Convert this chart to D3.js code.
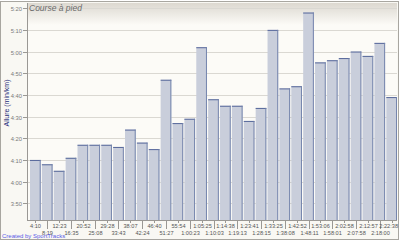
<!DOCTYPE html>
<html>
<head>
<meta charset="utf-8">
<script src="https://cdn.jsdelivr.net/npm/d3@7"></script>
<style>
  body { margin: 0; background: #ffffff; }
  svg { display: block; }
</style>
</head>
<body>
<div id="chart"></div>
<script>
// cumulative time at the end of each km (x axis labels)
var kmLabels = ["4:10", "8:19", "12:23", "16:35", "20:52", "25:08", "29:28", "33:43", "38:07", "42:24",
    "46:40", "51:27", "55:54", "1:00:23", "1:05:25", "1:10:03", "1:14:38", "1:19:13", "1:23:41", "1:28:15",
    "1:33:25", "1:38:08", "1:42:52", "1:48:11", "1:53:06", "1:58:01", "2:02:58", "2:07:58", "2:12:57", "2:18:00",
    "2:22:38"];
// pace for each km, in seconds per km
var paceSeconds = [250, 248, 245, 251, 257, 257, 257, 256, 264, 258,
    255, 287, 267, 269, 302, 278, 275, 275, 268, 274,
    310, 283, 284, 318, 295, 296, 297, 300, 298, 304,
    279];
var yTicks = [230, 240, 250, 260, 270, 280, 290, 300, 310, 320];

var width = 400, height = 240;
// note: "top" is a reserved window property, so use plotX0 etc.
var plotX0 = 27, plotX1 = 397, plotY0 = 3, plotY1 = 220;

var svg = d3.select("#chart").append("svg")
    .attr("width", width)
    .attr("height", height);

var defs = svg.append("defs");
var grad = defs.append("linearGradient")
    .attr("id", "head")
    .attr("x1", 0).attr("y1", 0).attr("x2", 0).attr("y2", 1);
grad.append("stop").attr("offset", "0%").attr("stop-color", "#dcd8d0");
grad.append("stop").attr("offset", "100%").attr("stop-color", "#fcfbf7");

// outer background + frame
svg.append("rect")
    .attr("x", 0.5).attr("y", 1.5)
    .attr("width", width - 2).attr("height", height - 2)
    .attr("fill", "#f9f8f3")
    .attr("stroke", "#a8a6a0");

// plot background
svg.append("rect")
    .attr("x", plotX0).attr("y", plotY0)
    .attr("width", plotX1 - plotX0).attr("height", plotY1 - plotY0)
    .attr("fill", "#fcfbf7");
svg.append("rect")
    .attr("x", plotX0).attr("y", plotY0)
    .attr("width", plotX1 - plotX0).attr("height", 22)
    .attr("fill", "url(#head)");

var x = d3.scaleBand()
    .domain(d3.range(paceSeconds.length))
    .range([30, plotX1])
    .paddingInner(0.1)
    .paddingOuter(0);

var y = d3.scaleLinear()
    .domain([222.3, 322.4])
    .range([plotY1, plotY0]);

function fmt(s) {
    var m = Math.floor(s / 60), r = s % 60;
    return m + ":" + (r < 10 ? "0" : "") + r;
}

// grid lines
svg.append("g").selectAll("line")
    .data(yTicks)
    .enter().append("line")
    .attr("x1", plotX0).attr("x2", plotX1)
    .attr("y1", function(d) { return Math.round(y(d)) + 0.5; })
    .attr("y2", function(d) { return Math.round(y(d)) + 0.5; })
    .attr("stroke", "#dad8d2");

// title
svg.append("text")
    .attr("x", 29).attr("y", 11)
    .attr("font-family", "Liberation Sans, Arial, sans-serif")
    .attr("font-size", 8.5)
    .attr("font-style", "italic")
    .attr("fill", "#6a6a6a")
    .text("Course à pied");

// bars
var bars = svg.append("g").selectAll("g")
    .data(paceSeconds)
    .enter().append("g");

bars.append("rect")
    .attr("x", function(d, i) { return x(i); })
    .attr("y", function(d) { return y(d); })
    .attr("width", x.bandwidth())
    .attr("height", function(d) { return plotY1 - y(d); })
    .attr("fill", "#c9cedb");

bars.append("line")
    .attr("x1", function(d, i) { return x(i); })
    .attr("x2", function(d, i) { return x(i) + x.bandwidth(); })
    .attr("y1", function(d) { return y(d) + 0.5; })
    .attr("y2", function(d) { return y(d) + 0.5; })
    .attr("stroke", "#56679a");

bars.append("line")
    .attr("x1", function(d, i) { return x(i) + x.bandwidth() - 0.5; })
    .attr("x2", function(d, i) { return x(i) + x.bandwidth() - 0.5; })
    .attr("y1", function(d) { return y(d); })
    .attr("y2", plotY1)
    .attr("stroke", "#7585ad");

// axes lines
svg.append("line")
    .attr("x1", plotX0 + 0.5).attr("x2", plotX0 + 0.5)
    .attr("y1", plotY0).attr("y2", plotY1)
    .attr("stroke", "#9a9894");
svg.append("line")
    .attr("x1", plotX0).attr("x2", plotX1)
    .attr("y1", plotY1 + 0.5).attr("y2", plotY1 + 0.5)
    .attr("stroke", "#9a9894");

// y ticks
var yt = svg.append("g").selectAll("g")
    .data(yTicks)
    .enter().append("g")
    .attr("transform", function(d) { return "translate(0," + (Math.round(y(d)) + 0.5) + ")"; });
yt.append("line")
    .attr("x1", 23).attr("x2", plotX0)
    .attr("stroke", "#9a9894");
yt.append("text")
    .attr("x", 22).attr("dy", "0.35em")
    .attr("text-anchor", "end")
    .attr("font-family", "Liberation Sans, Arial, sans-serif")
    .attr("font-size", 5.8)
    .attr("fill", "#7a7a7a")
    .text(fmt);

// x ticks, labels alternate between two rows
var xt = svg.append("g").selectAll("g")
    .data(kmLabels)
    .enter().append("g")
    .attr("transform", function(d, i) { return "translate(" + (Math.round(x(i) + x.bandwidth() / 2) + 0.5) + ",0)"; });
xt.append("line")
    .attr("y1", plotY1)
    .attr("y2", function(d, i) { return i % 2 ? plotY1 + 9 : plotY1 + 3; })
    .attr("stroke", "#9a9894");
xt.append("text")
    .attr("y", function(d, i) { return i % 2 ? 235 : 228; })
    .attr("text-anchor", "middle")
    .attr("font-family", "Liberation Sans, Arial, sans-serif")
    .attr("font-size", 5.6)
    .attr("fill", "#555555")
    .text(function(d) { return d; })
    .each(function(d, i) {
        // keep the last label inside the frame
        var cx = Math.round(x(i) + x.bandwidth() / 2) + 0.5;
        var w = this.getComputedTextLength();
        if (cx + w / 2 > width - 2) d3.select(this).attr("x", width - 2 - w / 2 - cx);
    });

// y axis title
svg.append("text")
    .attr("transform", "translate(9,103) rotate(-90)")
    .attr("text-anchor", "middle")
    .attr("font-family", "Liberation Sans, Arial, sans-serif")
    .attr("font-size", 7)
    .attr("fill", "#1c2a78")
    .text("Allure (min/km)");

svg.append("text")
    .attr("x", 2).attr("y", 238)
    .attr("font-family", "Liberation Sans, Arial, sans-serif")
    .attr("font-size", 6)
    .attr("fill", "#5a5ae6")
    .text("Created by SportTracks");
</script>
</body>
</html>
